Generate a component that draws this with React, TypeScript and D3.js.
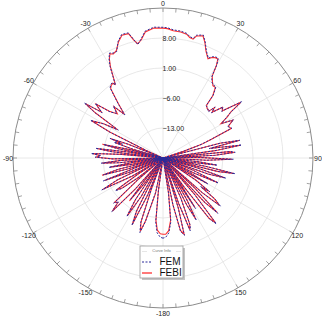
import { useEffect, useRef } from 'react';
import * as d3 from 'd3';

// angle (deg, clockwise from top) and gain (dB)
const angles = [
  -180, -178, -175.5, -173.5, -172, -170.5, -168, -164.5, -162.8, -161, -159.5, -158.5, -157.5, -155.2, -153.5, -152,
  -150.5, -148.3, -146.5, -145.2, -144, -142, -140.3, -139.3, -138.3, -136.4, -134.5, -132.5, -130.8, -129.8,
  -128.5, -126.5, -124.5, -122.8, -121.8, -120.5, -117.6, -115.6, -114.3, -113, -111, -109.3, -108.3, -107.2,
  -105.8, -104.2, -102.8, -101.6, -99.8, -98.2, -97.2, -96.2, -94.8, -93.3, -92.2, -91, -89.3, -87.8, -86.4,
  -85, -84, -83, -81.8, -80.2, -79.2, -78.3, -77.2, -75.8, -74.8, -73.8, -72.3, -71, -69.7, -68.5, -67.2, -66,
  -64, -62.5, -60, -58, -56.3, -55, -53.3, -51.2, -48.9, -46, -43.7, -41.5, -39.5, -38, -37, -35.5, -34, -33,
  -31.5, -30, -28.5, -27, -25.5, -23.5, -21, -18.5, -15.5, -14, -12.5, -10.5, -8, -4, 0,
  2, 4.6, 8, 10.8, 12.5, 14.2, 15.3, 18.1, 19.9, 22, 24.4, 26, 27.5, 29, 30, 31, 33, 34.6, 36.6, 38.6, 39.5,
  41.5, 44.4, 45.6, 47, 49.6, 51.5, 54.4, 55.8, 57.3, 59.4, 61.6, 64, 66.6, 69, 70.6, 72, 73.5, 75.5, 77, 78.5,
  79.5, 80.6, 82, 83, 84.5, 85.5, 87, 88, 89, 91, 93, 94.5, 96, 97.5, 99, 100, 101, 102.3, 103.8, 105, 106,
  107.8, 109.5, 110.5, 112, 114.3, 116, 117, 118.5, 120, 121.5, 122.5, 124, 125.8, 127.2, 128.3, 130, 131.5,
  132.5, 133.5, 135.2, 136.8, 138, 139, 141, 142.6, 144, 145, 146, 147.2, 148.5, 149.5, 150.3, 151.8, 153.2,
  154.5, 156, 158, 159.5, 161, 162, 163, 164.5, 166.5, 168, 169.5, 171, 173, 175.5, 178, 180,
];

const femDb = [
  -1.3, -1.5, -2.5, -5, -12, -20, -12, -4.5, -1.8, -4, -12, -20, -11, -2.7, -6, -20,
  -10, -3.9, -8, -20, -13, -7.6, -14, -20, -10, -2.7, -5.5, -4.4, -12, -20,
  -13, -8, -6.5, -13, -20, -12, -3.9, -8, -20, -12, -5.1, -14, -20, -11,
  -5.5, -9, -20, -13, -7.2, -13, -20, -10, -5.5, -10, -20, -8, -4.2, -5.5, -3.2,
  -10, -20, -8, -4.1, -12, -20, -9, -5.8, -12, -20, -13, -8, -10, -6.8, -11, -20, -16,
  -6, -0.9, -4.2, -7.7, -0.9, 2.4, -2.3, 0.3, -3.7, -5, -3.2, -6.6, -3.5, -1.3, 0.5, 1.0, 1.2, 0.3,
  2.4, 4.7, 6.4, 7.5, 7.1, 7.1, 9.2, 10.4, 10.3, 8.6, 7.1, 8.2, 9.9, 10.6, 10.5,
  10.4, 10.0, 9.9, 9.6, 9.0, 8.8, 9.7, 10.2, 8.9, 7.0, 5.6, 6.3, 6.6, 6.6, 5.1, 2.1, 1.0, 0.7, 0.7, -1.2, -4.2,
  -4.3, -4.9, -3.0, -4.5, -1.6, -2.5, 2.6, -0.7, -2.3, -4.1, -1.3, -3.2, -2.5, -8.3, -10.9, -15.3, -20, -6, -1.6, -9,
  -6, -1.4, -8, -20, -4.1, -3.1, -8, -20, -12, -3.6, -10, -20, -12, -7.2, -14, -20, -10, -2.8, -7, -20, -12,
  -4.6, -9, -20, -13, -5.8, -12, -20, -13, -7.9, -14, -20, -11, -6.5, -9, -4.5, -2.5, -8,
  -20, -10, -1.8, -6, -20, -9, -0.2, -2, -12, -20, -13, -6, -14, -20, -9, -3.5, -8,
  -20, -10, -3, -1.9, -9, -20, -8, -1.3, -2.3, -9, -20, -12, -5, -2.5, -1.5, -1.3,
];

const febiDb = [
  -2.2, -2.3, -3.1, -5.4, -12.5, -20, -11.5, -4.8, -2.1, -4.3, -12.4, -20, -10.6, -2.9, -6.3, -20,
  -9.6, -4.2, -8.4, -20, -12.6, -7.3, -14.3, -20, -10.4, -2.9, -5.2, -4.7, -12.3, -20,
  -12.7, -8.3, -6.8, -13.4, -20, -11.6, -4.2, -8.3, -20, -11.7, -5.4, -13.6, -20, -11.3,
  -5.2, -9.3, -20, -12.6, -7.5, -13.3, -20, -9.7, -5.8, -10.3, -20, -8.3, -4.5, -5.2, -3.5,
  -10.3, -20, -7.7, -4.4, -11.7, -20, -9.3, -5.5, -12.3, -20, -12.7, -8.3, -9.7, -7.1, -11.3, -20, -15.6,
  -6.3, -1.2, -4.0, -7.4, -1.1, 2.1, -2.0, 0.0, -3.4, -5.2, -3.5, -6.3, -3.7, -1.5, 0.3, 0.8, 1.0, 0.5,
  2.2, 4.5, 6.2, 7.3, 6.9, 7.3, 9.0, 10.2, 10.1, 8.4, 7.3, 8.0, 9.7, 10.4, 10.3,
  10.2, 9.8, 9.7, 9.4, 8.8, 8.6, 9.5, 10.0, 8.7, 6.8, 5.4, 6.1, 6.4, 6.4, 4.9, 2.3, 1.2, 0.5, 0.5, -1.4, -4.0,
  -4.5, -4.6, -3.2, -4.3, -1.8, -2.3, 2.3, -0.9, -2.1, -4.3, -1.5, -3.0, -2.7, -8.0, -10.6, -15.0, -20, -6.3, -1.8, -8.7,
  -6.3, -1.7, -7.7, -20, -4.4, -3.4, -7.7, -20, -11.6, -3.9, -9.7, -20, -11.6, -7.5, -13.6, -20, -9.7, -3.1, -6.7, -20, -11.6,
  -4.9, -8.7, -20, -12.6, -6.1, -11.7, -20, -12.6, -8.2, -13.6, -20, -10.7, -6.8, -8.7, -4.8, -2.8, -7.7,
  -20, -9.7, -2.1, -5.7, -20, -8.7, -0.6, -2.3, -11.6, -20, -12.6, -6.3, -13.6, -20, -8.7, -3.8, -7.7,
  -20, -9.7, -3.3, -2.2, -8.7, -20, -7.7, -1.6, -2.6, -8.7, -20, -11.6, -5.4, -3.0, -2.2, -2.2,
];

const ringValues = [-13, -6, 1, 8];
const angleTicks = [0, 30, 60, 90, 120, 150, 180, -150, -120, -90, -60, -30];
const angleLabels = ['0', '30', '60', '90', '120', '150', '-180', '-150', '-120', '-90', '-60', '-30'];
const seriesNames = ['FEM', 'FEBI'];

export default function App() {
    const ref = useRef<SVGSVGElement>(null);

    useEffect(() => {
        if (!ref.current) return;
        const svg = d3.select(ref.current);
        svg.selectAll('*').remove();

        const cx = 163, cy = 158, R = 150;
        const rScale = d3.scaleLinear().domain([-20, 15]).range([0, R]).clamp(true);
        const rad = (d: number) => (d * Math.PI) / 180;

        const g = svg.append('g').attr('transform', `translate(${cx},${cy})`);

        // grid rings
        g.selectAll('circle.ring')
            .data(ringValues)
            .enter().append('circle')
            .attr('r', d => rScale(d))
            .attr('fill', 'none')
            .attr('stroke', '#e2e2e2')
            .attr('stroke-width', 0.8);

        // spokes
        g.selectAll('line.spoke')
            .data(d3.range(0, 360, 30))
            .enter().append('line')
            .attr('x1', 0).attr('y1', 0)
            .attr('x2', d => R * Math.sin(rad(d)))
            .attr('y2', d => -R * Math.cos(rad(d)))
            .attr('stroke', '#e2e2e2')
            .attr('stroke-width', 0.8);

        // outer circle + ticks
        g.append('circle')
            .attr('r', R)
            .attr('fill', 'none')
            .attr('stroke', '#8c8c8c')
            .attr('stroke-width', 1);

        g.selectAll('line.tick')
            .data(d3.range(0, 360, 5))
            .enter().append('line')
            .attr('x1', d => (R - 4) * Math.sin(rad(d)))
            .attr('y1', d => -(R - 4) * Math.cos(rad(d)))
            .attr('x2', d => R * Math.sin(rad(d)))
            .attr('y2', d => -R * Math.cos(rad(d)))
            .attr('stroke', '#8c8c8c')
            .attr('stroke-width', 0.8);

        // angle labels
        g.selectAll('text.alabel')
            .data(angleTicks)
            .enter().append('text')
            .attr('x', d => 155 * Math.sin(rad(d)))
            .attr('y', d => -155 * Math.cos(rad(d)))
            .attr('text-anchor', 'middle')
            .attr('dominant-baseline', 'central')
            .style('font-family', 'Arial, "Liberation Sans", sans-serif')
            .style('font-size', '7px')
            .style('fill', '#222')
            .text((d, i) => angleLabels[i]);

        // ring labels
        g.selectAll('text.rlabel')
            .data(ringValues)
            .enter().append('text')
            .attr('x', -0.5)
            .attr('y', d => -rScale(d))
            .attr('dominant-baseline', 'central')
            .style('font-family', 'Arial, "Liberation Sans", sans-serif')
            .style('font-size', '7px')
            .style('fill', '#222')
            .text(d => d3.format('.2f')(d));

        const line = d3.lineRadial<number>()
            .angle((d, i) => rad(angles[i]))
            .radius(d => rScale(d));

        g.append('path')
            .attr('d', line(febiDb))
            .attr('fill', 'none')
            .attr('stroke', '#ff3030')
            .attr('stroke-width', 1.1);

        g.append('path')
            .attr('d', line(femDb))
            .attr('fill', 'none')
            .attr('stroke', '#2a2a9a')
            .attr('stroke-width', 1)
            .attr('stroke-dasharray', '2,1.5');

        // legend
        const lg = svg.append('g').attr('transform', 'translate(140,246)');
        lg.append('rect').attr('x', 2).attr('y', 2).attr('width', 43).attr('height', 32).attr('fill', '#c4c4c4');
        lg.append('rect').attr('width', 43).attr('height', 32).attr('fill', '#fff').attr('stroke', '#9a9a9a').attr('stroke-width', 0.8);
        lg.append('text')
            .attr('x', 21.5).attr('y', 4)
            .attr('text-anchor', 'middle')
            .attr('dominant-baseline', 'central')
            .style('font-family', 'Arial, "Liberation Sans", sans-serif')
            .style('font-size', '4px')
            .style('fill', '#777')
            .text('Curve Info');
        lg.append('line').attr('x1', 7).attr('x2', 2).attr('y1', 5.5).attr('y2', 5.5).attr('stroke', '#ccc').attr('stroke-width', 0.5);
        lg.append('line').attr('x1', 36).attr('x2', 41).attr('y1', 5.5).attr('y2', 5.5).attr('stroke', '#ccc').attr('stroke-width', 0.5);

        const colors = ['#2a2a9a', '#ff3030'];
        seriesNames.forEach((name, i) => {
            const y = 15 + i * 11;
            lg.append('line')
                .attr('x1', 2).attr('x2', 12)
                .attr('y1', y + 1).attr('y2', y + 1)
                .attr('stroke', colors[i])
                .attr('stroke-width', i === 0 ? 1 : 1.3)
                .attr('stroke-dasharray', i === 0 ? '2,1.5' : null);
            lg.append('text')
                .attr('x', 19.5).attr('y', y)
                .attr('dominant-baseline', 'central')
                .style('font-family', 'Arial, "Liberation Sans", sans-serif')
                .style('font-size', '10px')
                .style('fill', '#111')
                .text(name);
        });
    }, []);

    return (
        <svg ref={ref} width={322} height={320} style={{ position: 'absolute', left: 0, top: 0, background: '#fff' }} />
    );
}
